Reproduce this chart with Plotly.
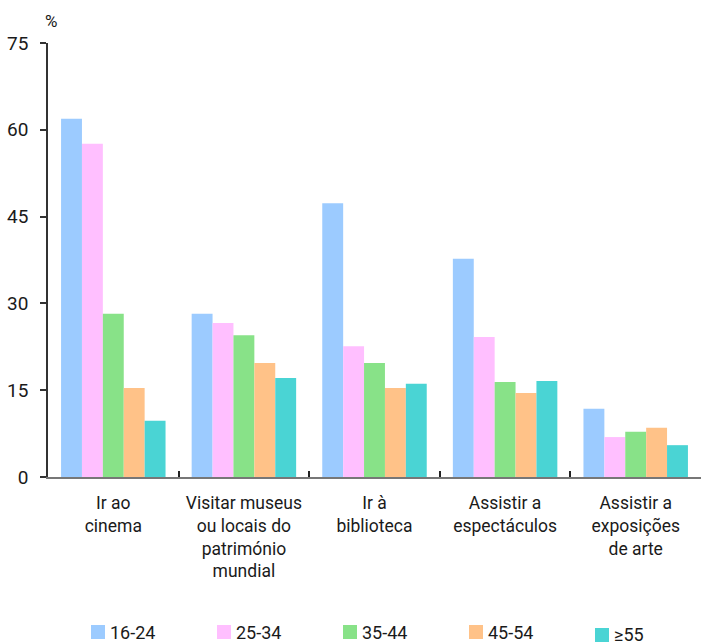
import plotly.graph_objects as go

categories = [
    "Ir ao<br>cinema",
    "Visitar museus<br>ou locais do<br>património<br>mundial",
    "Ir à<br>biblioteca",
    "Assistir a<br>espectáculos",
    "Assistir a<br>exposições<br>de arte",
]
series_names = ["16-24", "25-34", "35-44", "45-54", "≥55"]
v_16_24 = [61.9, 28.2, 47.3, 37.7, 11.8]
v_25_34 = [57.6, 26.6, 22.6, 24.2, 6.9]
v_35_44 = [28.2, 24.5, 19.7, 16.4, 7.8]
v_45_54 = [15.4, 19.7, 15.4, 14.5, 8.5]
v_55 = [9.7, 17.1, 16.1, 16.6, 5.5]
y_ticks = [0, 15, 30, 45, 60, 75]

colors = ["#9CCBFF", "#FFBFFF", "#88E288", "#FFC288", "#4AD4D4"]
values = [v_16_24, v_25_34, v_35_44, v_45_54, v_55]

FONT = "Roboto, Liberation Sans, sans-serif"
TXT = "#1a1a1a"

W, H = 701, 644
ML, MR, MT, MB = 48, 0, 43, 167
PW, PH = W - ML - MR, H - MT - MB

def px_x(p):
    return (p - ML) / PW

def px_y(p):
    return (H - MB - p) / PH

fig = go.Figure()
for name, vals, c in zip(series_names, values, colors):
    fig.add_trace(go.Bar(x=categories, y=vals, name=name,
                         marker=dict(color=c, line=dict(width=0))))

# legend drawn as squares + labels along the bottom
shapes = []
annotations = []
for i, (name, c) in enumerate(zip(series_names, colors)):
    x0 = 91 + 126 * i
    yc = 632 if i < 4 else 635
    shapes.append(dict(type="rect", xref="paper", yref="paper",
                       x0=px_x(x0), x1=px_x(x0 + 14), y0=px_y(yc + 7), y1=px_y(yc - 7),
                       fillcolor=c, line=dict(width=0)))
    annotations.append(dict(text=name, xref="paper", yref="paper",
                            x=px_x(x0 + 17), y=px_y(yc), xanchor="left", yanchor="middle",
                            showarrow=False, font=dict(size=18, color=TXT, family=FONT)))

annotations.append(dict(text="%", xref="paper", yref="paper", x=0.0, y=1.0,
                        xanchor="center", yanchor="middle", xshift=3, yshift=22,
                        showarrow=False, font=dict(size=17, color=TXT, family=FONT)))

fig.update_layout(
    width=W, height=H,
    margin=dict(l=ML, r=MR, t=MT, b=MB, autoexpand=False),
    paper_bgcolor="white", plot_bgcolor="white",
    barmode="group", bargap=0.2, bargroupgap=0,
    font=dict(family=FONT, size=18, color=TXT),
    showlegend=False,
    shapes=shapes,
    annotations=annotations,
)
fig.update_xaxes(
    type="category", range=[-0.5, 4.5], automargin=False,
    showline=True, linecolor="#777", linewidth=2,
    ticks="inside", tickson="boundaries", ticklen=6, tickcolor="#222", tickwidth=1.5,
    showgrid=False, tickfont=dict(size=17.5, color=TXT), ticklabelstandoff=9,
)
fig.update_yaxes(
    range=[0, 75], tickvals=y_ticks, automargin=False,
    showline=True, linecolor="#333", linewidth=1.5,
    ticks="outside", ticklen=6, tickcolor="#333", tickwidth=1.5,
    showgrid=False, zeroline=False, ticklabelstandoff=8,
    tickfont=dict(size=19, color=TXT),
)
fig.write_html(
    "out.html",
    config={"displayModeBar": False},
    post_script="document.body.style.margin='0';document.body.style.overflow='hidden';",
)
